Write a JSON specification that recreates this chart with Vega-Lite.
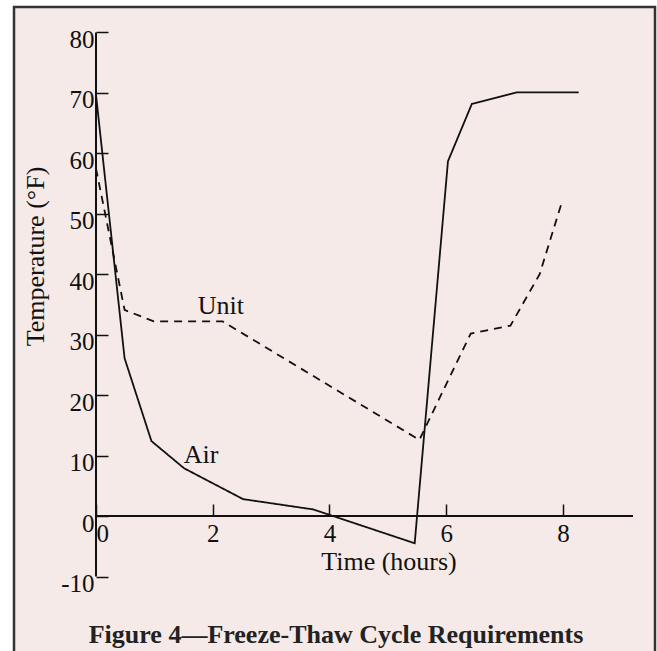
{
  "$schema": "https://vega.github.io/schema/vega-lite/v6.json",
  "width": 641,
  "height": 646,
  "autosize": {"type": "none"},
  "padding": {"left": 14, "top": 7, "right": 2, "bottom": 0},
  "background": "white",
  "config": {
    "view": {"fill": "#f5eae8", "stroke": "#333333", "strokeWidth": 2.5},
    "font": "Liberation Serif"
  },
  "title": {
    "text": "Figure 4—Freeze-Thaw Cycle Requirements",
    "orient": "bottom",
    "anchor": "middle",
    "offset": -10,
    "baseline": "alphabetic",
    "font": "Liberation Serif",
    "fontSize": 26,
    "fontWeight": "bold",
    "color": "#222222",
    "dx": 1.5
  },
  "datasets": {
    "curves": [
      {"series": "Air", "time": 0, "temp": 69.7},
      {"series": "Air", "time": 0.49, "temp": 26.1},
      {"series": "Air", "time": 0.95, "temp": 12.4},
      {"series": "Air", "time": 1.51, "temp": 7.9},
      {"series": "Air", "time": 2.52, "temp": 2.8},
      {"series": "Air", "time": 3.72, "temp": 1.1},
      {"series": "Air", "time": 5.46, "temp": -4.5},
      {"series": "Air", "time": 6.03, "temp": 58.7},
      {"series": "Air", "time": 6.44, "temp": 68.2},
      {"series": "Air", "time": 7.21, "temp": 70.1},
      {"series": "Air", "time": 8.27, "temp": 70.1},
      {"series": "Unit", "time": 0, "temp": 57.5},
      {"series": "Unit", "time": 0.49, "temp": 34.1},
      {"series": "Unit", "time": 0.99, "temp": 32.2},
      {"series": "Unit", "time": 2.17, "temp": 32.2},
      {"series": "Unit", "time": 5.54, "temp": 12.6},
      {"series": "Unit", "time": 6.42, "temp": 30.2},
      {"series": "Unit", "time": 7.1, "temp": 31.5},
      {"series": "Unit", "time": 7.6, "temp": 40.0},
      {"series": "Unit", "time": 7.99, "temp": 52.2}
    ],
    "notes": [
      {"label": "Unit", "time": 2.14, "temp": 33.5},
      {"label": "Air", "time": 1.8, "temp": 8.8}
    ]
  },
  "layer": [
    {
      "data": {"values": [{}]},
      "mark": {"type": "rule", "color": "#111111", "strokeWidth": 2},
      "encoding": {
        "x": {"datum": 0, "type": "quantitative"},
        "y": {"datum": -10, "type": "quantitative"},
        "y2": {"datum": 80}
      }
    },
    {
      "data": {"values": [{}]},
      "mark": {"type": "rule", "color": "#111111", "strokeWidth": 2},
      "encoding": {
        "y": {"datum": 0, "type": "quantitative"},
        "x": {"datum": 0, "type": "quantitative"},
        "x2": {"datum": 9.2}
      }
    },
    {
      "data": {"name": "curves"},
      "mark": {"type": "line", "strokeWidth": 1.8, "color": "#111111"},
      "encoding": {
        "x": {
          "field": "time",
          "type": "quantitative",
          "scale": {"domain": [-1.4048, 9.5769], "nice": false, "zero": false},
          "axis": {
            "orient": "bottom",
            "offset": -137,
            "domain": false,
            "grid": false,
            "values": [0, 2, 4, 6, 8],
            "format": "d",
            "tickSize": -12,
            "tickColor": "#111111",
            "tickWidth": 1.5,
            "labelFont": "Liberation Serif",
            "labelFontSize": 25,
            "labelColor": "#111111",
            "labelBaseline": "alphabetic",
            "labelPadding": 37,
            "labelAlign": {"condition": {"test": "datum.value == 0", "value": "left"}, "value": "center"},
            "labelOverlap": false,
            "labelBound": false,
            "title": "Time (hours)",
            "titleFont": "Liberation Serif",
            "titleFontSize": 26,
            "titleFontWeight": "normal",
            "titleColor": "#111111",
            "titleAlign": "center",
            "titleBaseline": "alphabetic",
            "titleX": 374.5,
            "titleY": 53.3
          }
        },
        "y": {
          "field": "temp",
          "type": "quantitative",
          "scale": {"domain": [-22.656, 84.2187], "nice": false, "zero": false},
          "axis": {
            "orient": "left",
            "offset": -82,
            "domain": false,
            "grid": false,
            "values": [-10, 0, 10, 20, 30, 40, 50, 60, 70, 80],
            "tickSize": -12,
            "tickColor": "#111111",
            "tickWidth": 1.5,
            "labelFont": "Liberation Serif",
            "labelFontSize": 25,
            "labelColor": "#111111",
            "labelAlign": "right",
            "labelBaseline": "alphabetic",
            "labelOffset": 15,
            "labelPadding": 14,
            "labelOverlap": false,
            "labelBound": false,
            "labelExpr": "datum.value < 0 ? '-' + toString(-datum.value) : toString(datum.value)",
            "title": "Temperature (°F)",
            "titleFont": "Liberation Serif",
            "titleFontSize": 26,
            "titleFontWeight": "normal",
            "titleColor": "#111111",
            "titleAngle": -90,
            "titleAlign": "center",
            "titleBaseline": "alphabetic",
            "titleX": -53,
            "titleY": 249
          }
        },
        "detail": {"field": "series"},
        "strokeDash": {
          "field": "series",
          "type": "nominal",
          "scale": {"domain": ["Air", "Unit"], "range": [[1, 0], [8, 6]]},
          "legend": null
        }
      }
    },
    {
      "data": {"name": "notes"},
      "mark": {"type": "text", "font": "Liberation Serif", "fontSize": 26, "color": "#111111", "align": "center", "baseline": "alphabetic"},
      "encoding": {
        "x": {"field": "time", "type": "quantitative"},
        "y": {"field": "temp", "type": "quantitative"},
        "text": {"field": "label"}
      }
    }
  ]
}
